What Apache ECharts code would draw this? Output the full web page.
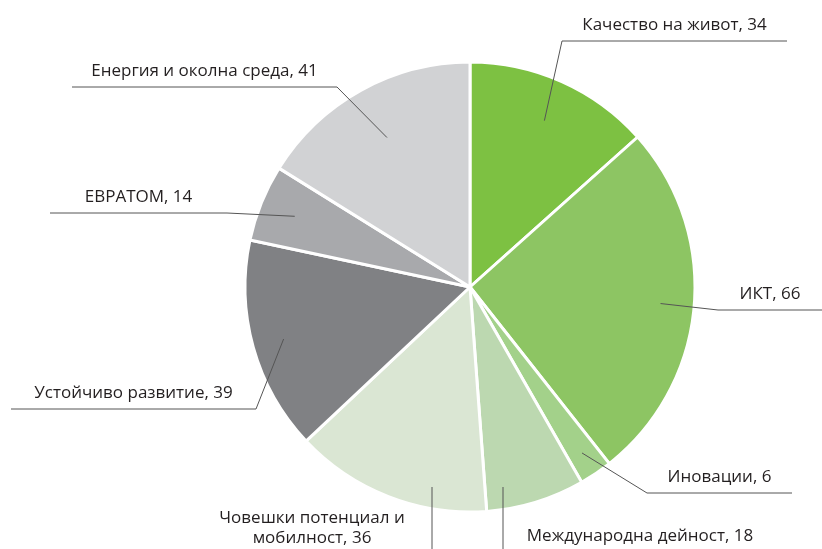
<!DOCTYPE html>
<html>
<head>
<meta charset="utf-8">
<script src="https://cdn.jsdelivr.net/npm/echarts@6/dist/echarts.min.js"></script>
<style>
  html, body { margin: 0; padding: 0; background: #fff; }
  #chart { width: 822px; height: 549px; }
</style>
</head>
<body>
<div id="chart"></div>
<script>
// данни
const categories = [
    'Качество на живот',
    'ИКТ',
    'Иновации',
    'Международна дейност',
    'Човешки потенциал и мобилност',
    'Устойчиво развитие',
    'ЕВРАТОМ',
    'Енергия и околна среда'
];
const values = [34, 66, 6, 18, 36, 39, 14, 41];
const colors = ['#7dc142', '#8dc563', '#a3d18a', '#bcd8b0', '#dae6d3', '#808184', '#a8a9ac', '#d1d2d4'];

const center = [470, 287];
const radius = 225;

// разположение на етикетите: чупка, край на линията, дълбочина на началната точка
const labelSpots = [
    { elbow: [562, 41], end: 787, k: 0.81 },
    { elbow: [718, 310], end: 822, k: 0.85 },
    { elbow: [647, 493], end: 792, k: 0.89 },
    { vx: 503, vy: 487, text: [640, 546] },
    { vx: 432, vy: 487, text: [312, 548], wrap: true },
    { elbow: [256, 409], end: 11, k: 0.86 },
    { elbow: [227, 213], end: 50, k: 0.84 },
    { elbow: [337, 87], end: 72, k: 0.76 }
];

const seriesData = categories.map((name, i) => ({
    name: name,
    value: values[i],
    itemStyle: { color: colors[i] }
}));

function labelText(p) {
    if (labelSpots[p.dataIndex].wrap) {
        // дългото име се чупи преди последната дума
        const words = p.name.split(' ');
        const last = words.pop();
        return words.join(' ') + '\n' + last + ', ' + p.value;
    }
    return p.name + ', ' + p.value;
}

const chart = echarts.init(document.getElementById('chart'));

chart.setOption({
    animation: false,
    series: [{
        // секторите
        type: 'pie',
        z: 2,
        center: center,
        radius: radius,
        startAngle: 90,
        clockwise: true,
        silent: true,
        emphasis: { disabled: true },
        itemStyle: { borderColor: '#fff', borderWidth: 3 },
        label: { show: false },
        labelLine: { show: false },
        data: seriesData
    }, {
        // прозрачен слой отгоре само за етикетите и линиите
        type: 'pie',
        z: 3,
        center: center,
        radius: radius,
        startAngle: 90,
        clockwise: true,
        silent: true,
        avoidLabelOverlap: false,
        emphasis: { disabled: true },
        itemStyle: { color: 'rgba(0,0,0,0)', borderWidth: 0 },
        label: {
            show: true,
            position: 'outside',
            formatter: labelText,
            fontFamily: 'Open Sans',
            fontSize: 17,
            lineHeight: 20,
            color: '#231f20',
            align: 'center',
            overflow: 'none'
        },
        labelLine: {
            show: true,
            lineStyle: { color: '#555', width: 1 }
        },
        labelLayout: function (params) {
            const s = labelSpots[params.dataIndex];
            const edge = params.labelLinePoints[0];
            if (s.vx !== undefined) {
                return {
                    x: s.text[0],
                    y: s.text[1],
                    align: 'center',
                    verticalAlign: 'bottom',
                    labelLinePoints: [[s.vx, s.vy], [s.vx, 560], [s.vx, 560]]
                };
            }
            const inner = [
                center[0] + s.k * (edge[0] - center[0]),
                center[1] + s.k * (edge[1] - center[1])
            ];
            return {
                x: (s.elbow[0] + s.end) / 2,
                y: s.elbow[1] - 6,
                align: 'center',
                verticalAlign: 'bottom',
                labelLinePoints: [inner, s.elbow, [s.end, s.elbow[1]]]
            };
        },
        data: seriesData.map(d => ({ name: d.name, value: d.value }))
    }]
});
</script>
</body>
</html>
